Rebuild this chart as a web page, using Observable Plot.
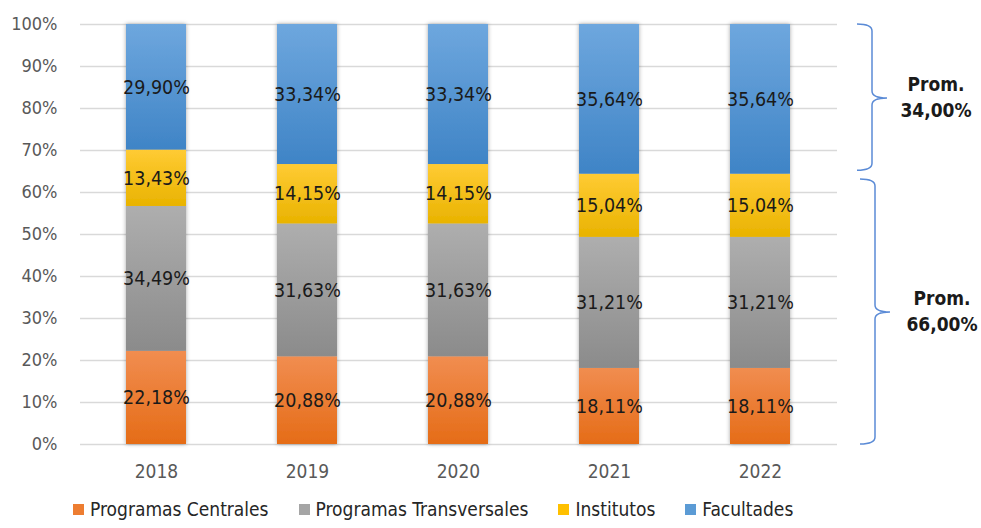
<!DOCTYPE html>
<html>
<head>
<meta charset="utf-8">
<script src="https://cdn.jsdelivr.net/npm/d3@7"></script>
<script src="https://cdn.jsdelivr.net/npm/@observablehq/plot@0.6"></script>
<style>
  body { margin: 0; background: #fff; }
  #chart { width: 981px; }
  .legend { display: flex; align-items: center; padding-left: 73px; height: 38px; font-family: "Liberation Sans Narrow", "Arial Narrow", "DejaVu Sans Condensed", sans-serif; font-size: 19px; color: #262626; }
  .legend .item { display: flex; align-items: center; margin-right: 30px; }
  .legend .sw { width: 11px; height: 11px; margin-right: 6px; }
</style>
</head>
<body>
<div id="chart"></div>
<script>
const years = ["2018", "2019", "2020", "2021", "2022"];
const series = ["Programas Centrales", "Programas Transversales", "Institutos", "Facultades"];
const programasCentrales = [22.18, 20.88, 20.88, 18.11, 18.11];
const programasTransversales = [34.49, 31.63, 31.63, 31.21, 31.21];
const institutos = [13.43, 14.15, 14.15, 15.04, 15.04];
const facultades = [29.90, 33.34, 33.34, 35.64, 35.64];
const yTicks = [0, 10, 20, 30, 40, 50, 60, 70, 80, 90, 100];
// gradient colours per series: [top, bottom]
const gradients = [["#F18D50", "#E56C17"], ["#AEAEAE", "#8B8B8B"], ["#FFCB34", "#E9B300"], ["#6EA7DE", "#3F84C6"]];
const legendColors = ["#ED7D31", "#A5A5A5", "#FFC000", "#5B9BD5"];
// braces (percent ranges) and labels
const braceFrom = [100, 63.1];
const braceTo = [65.2, 0];
const braceTip = [82.4, 31.4];
const braceLabels = [["Prom.", "34,00%"], ["Prom.", "66,00%"]];

const valuesBySeries = [programasCentrales, programasTransversales, institutos, facultades];
const data = [];
years.forEach((yr, i) => {
  series.forEach((s, j) => data.push({year: yr, series: s, value: valuesBySeries[j][i]}));
});
const fmt = v => v.toFixed(2).replace(".", ",") + "%";
const gradIds = series.map((s, j) => `url(#grad${j})`);
const FONT = `"Liberation Sans Narrow", "Arial Narrow", "DejaVu Sans Condensed", sans-serif`;

function defsMark() {
  const g = d3.create("svg:g");
  const defs = g.append("defs");
  gradients.forEach((c, j) => {
    const lg = defs.append("linearGradient").attr("id", `grad${j}`).attr("x1", 0).attr("y1", 0).attr("x2", 0).attr("y2", 1);
    lg.append("stop").attr("offset", "0%").attr("stop-color", c[0]);
    lg.append("stop").attr("offset", "100%").attr("stop-color", c[1]);
  });
  const f = defs.append("filter").attr("id", "shadow").attr("x", "-20%").attr("y", "-5%").attr("width", "140%").attr("height", "110%");
  f.append("feDropShadow").attr("dx", 0).attr("dy", 0).attr("stdDeviation", 2.2).attr("flood-color", "#000").attr("flood-opacity", 0.35);
  return g.node();
}

function bracesMark(index, scales, values, dimensions) {
  const g = d3.create("svg:g");
  const right = dimensions.width - dimensions.marginRight;
  braceFrom.forEach((from, i) => {
    const y1 = scales.y(from), y2 = scales.y(braceTo[i]), ym = scales.y(braceTip[i]);
    const xs = right + 35 + i * 3, xl = xs - 15, xt = xs + 15, r = 7;
    const p = `M${xl},${y1} Q${xs},${y1} ${xs},${y1 + r} L${xs},${ym - r} Q${xs},${ym} ${xt},${ym} Q${xs},${ym} ${xs},${ym + r} L${xs},${y2 - r} Q${xs},${y2} ${xl},${y2}`;
    g.append("path").attr("d", p).attr("fill", "none").attr("stroke", "#5B8BD6").attr("stroke-width", 1.5);
    const cx = xt + 49 + i * 3;
    const t = g.append("text").attr("x", cx).attr("y", ym - 13 + 6).attr("text-anchor", "middle")
      .attr("font-family", FONT).attr("font-weight", "bold").attr("font-size", 19).attr("fill", "#1a1a1a");
    braceLabels[i].forEach((line, k) => t.append("tspan").attr("x", cx).attr("dy", k === 0 ? 0 : 26).text(line));
  });
  return g.node();
}

const plot = Plot.plot({
  width: 981,
  height: 490,
  marginLeft: 80,
  marginRight: 144,
  marginTop: 24,
  marginBottom: 46,
  style: {fontFamily: FONT, background: "#fff", overflow: "visible"},
  x: {domain: years, paddingInner: 0.6, paddingOuter: 0.3, label: null, tickSize: 0, tickPadding: 20},
  y: {domain: [0, 100], ticks: yTicks, tickFormat: d => d + "%", label: null, tickSize: 0, tickPadding: 23},
  color: {type: "ordinal", domain: series, range: gradIds},
  marks: [
    defsMark,
    Plot.gridY(yTicks, {stroke: "#D9D9D9", strokeOpacity: 1, strokeWidth: 1.5}),
    Plot.axisY({ticks: yTicks, tickFormat: d => d + "%", tickSize: 0, tickPadding: 23, fontSize: 18, color: "#595959", label: null}),
    Plot.axisX({tickSize: 0, tickPadding: 20, fontSize: 19, color: "#595959", label: null}),
    Plot.barY(data, {x: "year", y: "value", fill: "series", order: series}),
    Plot.text(data, Plot.stackY({x: "year", y: "value", z: "series", order: series, text: d => fmt(d.value), fontSize: 19.5, fill: "#1a1a1a"})),
    bracesMark
  ]
});
d3.select(plot).selectAll("g[aria-label=bar]").attr("filter", "url(#shadow)");
d3.select(plot).selectAll("g[aria-label='y-axis tick label'] text, g[aria-label='x-axis tick label'] text").attr("fill", "#595959");
document.getElementById("chart").appendChild(plot);

const legend = d3.select("#chart").append("div").attr("class", "legend");
series.forEach((s, j) => {
  const it = legend.append("div").attr("class", "item");
  it.append("div").attr("class", "sw").style("background", legendColors[j]);
  it.append("span").text(s);
});
</script>
</body>
</html>
